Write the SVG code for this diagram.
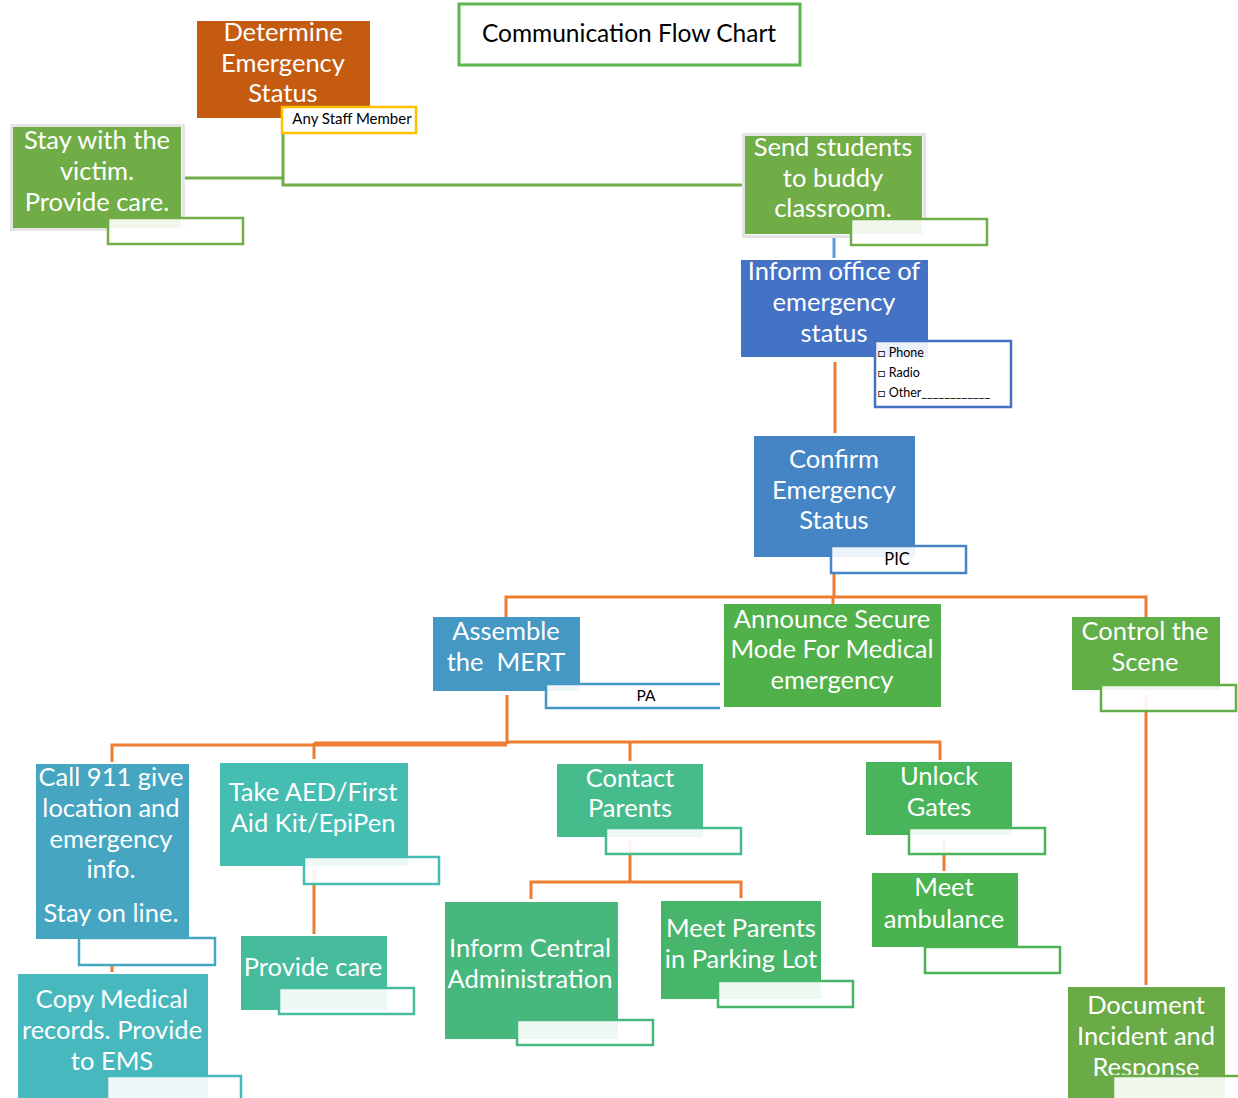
<svg xmlns="http://www.w3.org/2000/svg" width="1238" height="1098" viewBox="0 0 1238 1098">
<defs>
<style>
.t{font-family:Lato,"Liberation Sans",sans-serif;font-size:25.5px;fill:#fff;text-anchor:middle}
.s{font-family:Lato,"Liberation Sans",sans-serif;fill:#000}
.c{fill:none;stroke-width:3}
.o{stroke:#ed7d31}
.g{stroke:#70ad47}
.lb{fill:#fff;fill-opacity:0.9;stroke-width:2.5}
.halo{fill:none;stroke:#e4e4e4;stroke-width:3}
</style>
<clipPath id="docclip"><rect x="1060" y="980" width="180" height="96"/></clipPath>
</defs>
<rect width="1238" height="1098" fill="#fff"/>

<g id="connectors">
<polyline class="c g" points="184,178 283,178"/>
<polyline class="c g" points="283,133 283,185 743,185"/>
<line class="c" x1="834" y1="237" x2="834" y2="258" stroke="#5b9bd5"/>
<line class="c o" x1="835" y1="362" x2="835" y2="433"/>
<polyline class="c o" points="834,573 834,597"/>
<polyline class="c o" points="506,617 506,597 1146,597 1146,617"/>
<line class="c o" x1="833" y1="597" x2="833" y2="604"/>
<line class="c o" x1="1146" y1="695" x2="1146" y2="985"/>
<line class="c o" x1="507" y1="695" x2="507" y2="744"/>
<polyline class="c o" points="112,762 112,745 507,745"/>
<polyline class="c o" points="314,743 507,743"/>
<line class="c o" x1="314" y1="743" x2="314" y2="759"/>
<polyline class="c o" points="507,742 940,742 940,760"/>
<line class="c o" x1="630" y1="742" x2="630" y2="761"/>
<line class="c o" x1="112" y1="965" x2="112" y2="972"/>
<line class="c o" x1="314" y1="870" x2="314" y2="934"/>
<polyline class="c o" points="630,840 630,882"/>
<polyline class="c o" points="531,899 531,882 741,882 741,898"/>
<line class="c o" x1="944" y1="840" x2="944" y2="871"/>
</g>

<g id="title">
<rect x="459" y="4" width="341" height="61" fill="#fff" stroke="#5db54f" stroke-width="3"/>
<text class="s" x="629" y="42" font-size="24.5" text-anchor="middle">Communication Flow Chart</text>
</g>

<g id="determine">
<rect x="197" y="21" width="173" height="97" fill="#c55a11"/>
<text class="t" x="283" y="41">Determine</text>
<text class="t" x="283" y="72">Emergency</text>
<text class="t" x="283" y="102">Status</text>
<rect x="282" y="107" width="134" height="26" fill="#fff" stroke="#ffc000" stroke-width="2.5"/>
<text class="s" x="352" y="124" font-size="15" text-anchor="middle">Any Staff Member</text>
</g>

<g id="stay">
<rect class="halo" x="11.5" y="125.5" width="172" height="104"/>
<rect x="13" y="127" width="168" height="101" fill="#70ad47"/>
<text class="t" x="97" y="149">Stay with the</text>
<text class="t" x="97" y="180">victim.</text>
<text class="t" x="97" y="211">Provide care.</text>
<rect class="lb" x="108" y="218" width="135" height="26" stroke="#70ad47"/>
</g>

<g id="send">
<rect class="halo" x="743.5" y="134.5" width="181" height="102"/>
<rect x="745" y="136" width="177" height="98" fill="#70ad47"/>
<text class="t" x="833" y="156">Send students</text>
<text class="t" x="833" y="187">to buddy</text>
<text class="t" x="833" y="217">classroom.</text>
<rect class="lb" x="851" y="219" width="136" height="26" stroke="#70ad47"/>
</g>

<g id="inform-office">
<rect x="741" y="260" width="187" height="97" fill="#4472c4"/>
<text class="t" x="834" y="280">Inform office of</text>
<text class="t" x="834" y="311">emergency</text>
<text class="t" x="834" y="342">status</text>
<rect class="lb" x="875" y="341" width="136" height="66" stroke="#4472c4" stroke-width="3"/>
<text class="s" x="878" y="357" font-size="12.5">□ Phone</text>
<text class="s" x="878" y="377" font-size="12.5">□ Radio</text>
<text class="s" x="878" y="397" font-size="12.5">□ Other____________</text>
</g>

<g id="confirm">
<rect x="754" y="436" width="161" height="121" fill="#4585c5"/>
<text class="t" x="834" y="468">Confirm</text>
<text class="t" x="834" y="499">Emergency</text>
<text class="t" x="834" y="529">Status</text>
<rect class="lb" x="831" y="546" width="135" height="27" stroke="#4585c5"/>
<text class="s" x="897" y="565" font-size="16.5" text-anchor="middle">PIC</text>
</g>

<g id="assemble">
<rect x="433" y="617" width="147" height="74" fill="#4597c4"/>
<text class="t" x="506" y="640">Assemble</text>
<text class="t" x="506" y="671" xml:space="preserve">the  MERT</text>
<path d="M720,684 H546 V708 H720" fill="#fff" fill-opacity="0.9" stroke="#4597c4" stroke-width="2.5"/>
<text class="s" x="646" y="701" font-size="15.5" text-anchor="middle">PA</text>
</g>

<g id="announce">
<rect x="724" y="604" width="217" height="103" fill="#50b04a"/>
<text class="t" x="832" y="628">Announce Secure</text>
<text class="t" x="832" y="658">Mode For Medical</text>
<text class="t" x="832" y="689">emergency</text>
</g>

<g id="control">
<rect x="1072" y="617" width="148" height="73" fill="#62ae47"/>
<text class="t" x="1145" y="640">Control the</text>
<text class="t" x="1145" y="671">Scene</text>
<rect class="lb" x="1101" y="685" width="135" height="26" stroke="#62ae47"/>
</g>

<g id="call911">
<rect x="36" y="764" width="153" height="175" fill="#46a5c1"/>
<text class="t" x="111" y="786">Call 911 give</text>
<text class="t" x="111" y="817">location and</text>
<text class="t" x="111" y="848">emergency</text>
<text class="t" x="111" y="878">info.</text>
<text class="t" x="111" y="922">Stay on line.</text>
<rect class="lb" x="79" y="938" width="136" height="27" stroke="#46a5c1"/>
</g>

<g id="copy-medical">
<rect x="18" y="974" width="190" height="124" fill="#48b8bf"/>
<text class="t" x="112" y="1008">Copy Medical</text>
<text class="t" x="112" y="1039">records. Provide</text>
<text class="t" x="112" y="1070">to EMS</text>
<rect class="lb" x="107" y="1076" width="134" height="30" stroke="#48b8bf"/>
</g>

<g id="take-aed">
<rect x="220" y="763" width="188" height="103" fill="#45bdb1"/>
<text class="t" x="313" y="801">Take AED/First</text>
<text class="t" x="313" y="832">Aid Kit/EpiPen</text>
<rect class="lb" x="304" y="857" width="135" height="27" stroke="#45bdb1"/>
</g>

<g id="provide-care">
<rect x="241" y="936" width="146" height="74" fill="#47bc9c"/>
<text class="t" x="313" y="976">Provide care</text>
<rect class="lb" x="279" y="988" width="135" height="26" stroke="#47bc9c"/>
</g>

<g id="contact-parents">
<rect x="557" y="764" width="146" height="73" fill="#46bb8c"/>
<text class="t" x="630" y="787">Contact</text>
<text class="t" x="630" y="817">Parents</text>
<rect class="lb" x="606" y="828" width="135" height="26" stroke="#46bb8c"/>
</g>

<g id="inform-central">
<rect x="445" y="902" width="173" height="137" fill="#47b87d"/>
<text class="t" x="530" y="957">Inform Central</text>
<text class="t" x="530" y="988">Administration</text>
<rect class="lb" x="517" y="1020" width="136" height="25" stroke="#47b87d"/>
</g>

<g id="meet-parents">
<rect x="661" y="901" width="160" height="98" fill="#47b66a"/>
<text class="t" x="741" y="937">Meet Parents</text>
<text class="t" x="741" y="968">in Parking Lot</text>
<rect class="lb" x="718" y="981" width="135" height="26" stroke="#47b66a"/>
</g>

<g id="unlock-gates">
<rect x="866" y="762" width="146" height="73" fill="#48b55a"/>
<text class="t" x="939" y="785">Unlock</text>
<text class="t" x="939" y="816">Gates</text>
<rect class="lb" x="909" y="828" width="136" height="26" stroke="#48b55a"/>
</g>

<g id="meet-ambulance">
<rect x="872" y="873" width="146" height="74" fill="#4ab24f"/>
<text class="t" x="944" y="896">Meet</text>
<text class="t" x="944" y="928">ambulance</text>
<rect class="lb" x="925" y="947" width="135" height="26" stroke="#4ab24f"/>
</g>

<g id="document">
<rect x="1068" y="987" width="157" height="111" fill="#6aab48"/>
<g clip-path="url(#docclip)">
<text class="t" x="1146" y="1014">Document</text>
<text class="t" x="1146" y="1045">Incident and</text>
<text class="t" x="1146" y="1076">Response</text>
</g>
<rect class="lb" x="1113" y="1076" width="135" height="30" stroke="#6aab48"/>
</g>
</svg>
